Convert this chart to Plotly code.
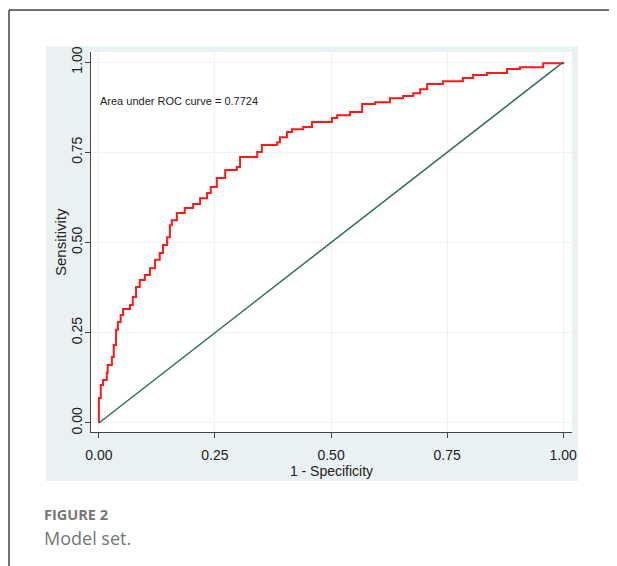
import plotly.graph_objects as go

# ROC curve (1 - specificity, sensitivity)
fpr = [0.0, 0.0, 0.004, 0.009, 0.017, 0.019, 0.028, 0.032, 0.037, 0.041, 0.047, 0.052,
       0.067, 0.073, 0.080, 0.088, 0.099, 0.110, 0.121, 0.131, 0.138, 0.147, 0.153, 0.157,
       0.168, 0.185, 0.203, 0.218, 0.233, 0.241, 0.254, 0.272, 0.297, 0.304, 0.341, 0.351,
       0.384, 0.390, 0.405, 0.416, 0.440, 0.459, 0.502, 0.513, 0.541, 0.567, 0.595, 0.627,
       0.655, 0.677, 0.692, 0.707, 0.741, 0.784, 0.806, 0.836, 0.879, 0.907, 0.957, 1.0]
tpr = [0.0, 0.069, 0.105, 0.119, 0.139, 0.161, 0.183, 0.216, 0.258, 0.280, 0.299, 0.316,
       0.327, 0.349, 0.377, 0.396, 0.410, 0.429, 0.452, 0.471, 0.493, 0.515, 0.548, 0.562,
       0.582, 0.596, 0.607, 0.623, 0.637, 0.654, 0.679, 0.701, 0.709, 0.737, 0.751, 0.770,
       0.778, 0.792, 0.806, 0.814, 0.820, 0.834, 0.845, 0.853, 0.862, 0.884, 0.889, 0.900,
       0.906, 0.914, 0.925, 0.939, 0.947, 0.956, 0.964, 0.970, 0.981, 0.986, 0.997, 1.0]
ref_x = [0.0, 1.0]
ref_y = [0.0, 1.0]
tick_vals = [0.0, 0.25, 0.5, 0.75, 1.0]
tick_text = ["0.00", "0.25", "0.50", "0.75", "1.00"]
auc_label = "Area under ROC curve = 0.7724"

OFF = 8  # page body margin
W, H = 617 - OFF, 566 - OFF
# plot area in window pixels: x 91..572, y 52..432
L, R, T, B = 91 - OFF, 617 - 572, 52 - OFF, 566 - 432
pw, ph = W - L - R, H - T - B

def px_x(p):
    return (p - OFF - L) / pw

def px_y(p):
    return (H - B - (p - OFF)) / ph

fig = go.Figure()
fig.add_trace(go.Scatter(x=fpr, y=tpr, mode="lines", line=dict(color="#ff1a1a", width=2, shape="hv"),
                         hoverinfo="skip", showlegend=False))
fig.add_trace(go.Scatter(x=ref_x, y=ref_y, mode="lines", line=dict(color="#2f6e5c", width=1.5),
                         hoverinfo="skip", showlegend=False))

shapes = [
    dict(type="rect", xref="paper", yref="paper", x0=px_x(46), x1=px_x(578), y0=px_y(481), y1=px_y(46),
         fillcolor="#eaf1f3", line=dict(width=0), layer="below"),
    dict(type="rect", xref="paper", yref="paper", x0=0, x1=1, y0=0, y1=1,
         fillcolor="white", line=dict(width=0), layer="below"),
    dict(type="line", xref="paper", yref="paper", x0=px_x(9), x1=px_x(620), y0=px_y(10), y1=px_y(10),
         line=dict(color="#444444", width=1.5)),
    dict(type="line", xref="paper", yref="paper", x0=px_x(9), x1=px_x(9), y0=px_y(10), y1=px_y(570),
         line=dict(color="#444444", width=1.5)),
]

base_font = "Liberation Sans, Arial"
annotations = [
    dict(x=-0.002, y=0.892, xref="x", yref="y", text=auc_label, showarrow=False, xanchor="left",
         yanchor="middle", font=dict(family=base_font, size=11, color="#222222")),
    dict(x=px_x(60), y=0.5, xref="paper", yref="paper", text="Sensitivity", textangle=-90, showarrow=False,
         xanchor="center", yanchor="middle", font=dict(family=base_font, size=15, color="#222222")),
    dict(x=px_x(42), y=px_y(515), xref="paper", yref="paper", text="<b>FIGURE 2</b>", showarrow=False,
         xanchor="left", yanchor="middle", font=dict(family="Open Sans", size=14.5, color="#767676")),
    dict(x=px_x(42), y=px_y(538), xref="paper", yref="paper", text="Model set.", showarrow=False,
         xanchor="left", yanchor="middle", font=dict(family="Open Sans", size=18, color="#767676")),
]

axis_common = dict(
    tickvals=tick_vals, ticktext=tick_text, showgrid=True, gridcolor="#edf2f3", gridwidth=1,
    zeroline=False, showline=True, linecolor="#444444", linewidth=1, ticks="outside", ticklen=5,
    tickcolor="#444444", tickfont=dict(family=base_font, size=14, color="#222222"),
    title_font=dict(family=base_font, size=14, color="#222222"), mirror=False,
)

fig.update_layout(
    width=W, height=H, margin=dict(l=L, r=R, t=T, b=B, autoexpand=False),
    paper_bgcolor="white", plot_bgcolor="white", shapes=shapes, annotations=annotations,
    xaxis=dict(range=[-0.017, 1.019], ticklabelstandoff=5,
               title=dict(text="1 - Specificity", standoff=1), **axis_common),
    yaxis=dict(range=[-0.025, 1.028], tickangle=-90, ticklabelstandoff=-3, **axis_common),
)

fig.write_html("out.html")
